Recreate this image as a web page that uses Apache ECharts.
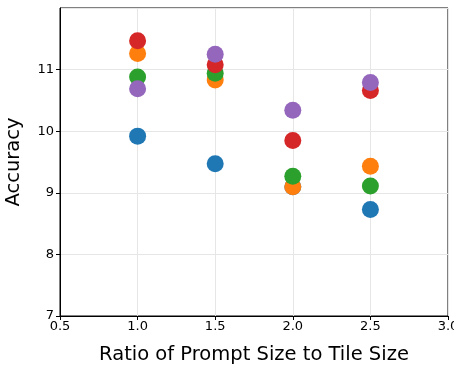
<!DOCTYPE html>
<html>
<head>
<meta charset="utf-8">
<script src="https://cdn.jsdelivr.net/npm/echarts@6/dist/echarts.min.js"></script>
<style>
  html, body { margin: 0; padding: 0; background: #fff; }
  #chart { width: 454px; height: 369px; }
</style>
</head>
<body>
<div id="chart"></div>
<script>
// x positions (ratio of prompt size to tile size)
const ratios = [1.0, 1.5, 2.0, 2.5];

// accuracy per series
const blueVals = [9.92, 9.47, 9.10, 8.73];
const orangeVals = [11.26, 10.83, 9.10, 9.43];
const greenVals = [10.88, 10.94, 9.27, 9.11];
const redVals = [11.47, 11.08, 9.85, 10.66];
const purpleVals = [10.69, 11.25, 10.34, 10.79];

const colors = ['#1f77b4', '#ff7f0e', '#2ca02c', '#d62728', '#9467bd'];
const allVals = [blueVals, orangeVals, greenVals, redVals, purpleVals];

const chart = echarts.init(document.getElementById('chart'), null, { renderer: 'canvas' });

const axisFont = { fontFamily: 'DejaVu Sans', fontSize: 13, color: '#000' };

const option = {
  animation: false,
  grid: {
    left: 60, right: 6, top: 8, bottom: 53,
    outerBoundsMode: 'none',
    containLabel: false,
    show: true, borderColor: '#000', borderWidth: 1
  },
  xAxis: {
    type: 'value',
    min: 0.5, max: 3.0, interval: 0.5,
    name: 'Ratio of Prompt Size to Tile Size',
    nameLocation: 'middle',
    nameGap: 29,
    nameTextStyle: { fontFamily: 'DejaVu Sans', fontSize: 19.5, color: '#000' },
    axisLine: { show: true, onZero: false, lineStyle: { color: '#000', width: 1 } },
    axisTick: { show: true, length: 4, lineStyle: { color: '#000' } },
    axisLabel: Object.assign({ margin: 4, formatter: v => v.toFixed(1) }, axisFont),
    splitLine: { show: true, lineStyle: { color: '#e6e6e6', width: 1 } }
  },
  yAxis: {
    type: 'value',
    min: 7, max: 12, interval: 1,
    name: 'Accuracy',
    nameLocation: 'middle',
    nameGap: 36,
    nameTextStyle: { fontFamily: 'DejaVu Sans', fontSize: 19.5, color: '#000' },
    axisLine: { show: true, onZero: false, lineStyle: { color: '#000', width: 1 } },
    axisTick: { show: true, length: 4, lineStyle: { color: '#000' } },
    axisLabel: Object.assign({ margin: 6, showMaxLabel: false }, axisFont),
    splitLine: { show: true, lineStyle: { color: '#e6e6e6', width: 1 } }
  },
  series: allVals.map((vals, i) => ({
    type: 'scatter',
    symbol: 'circle',
    symbolSize: 17,
    itemStyle: { color: colors[i], opacity: 1 },
    data: ratios.map((r, j) => [r, vals[j]]),
    z: 2 + i
  }))
};

chart.setOption(option);
</script>
</body>
</html>
